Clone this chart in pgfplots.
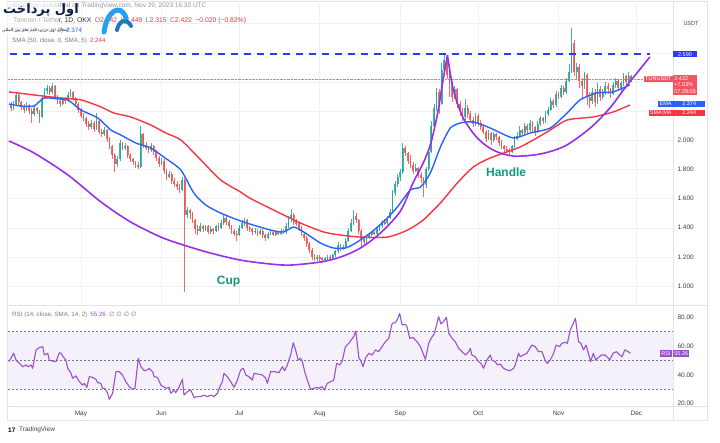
\documentclass[border=0pt]{standalone}
\usepackage{pgfplots}
\pgfplotsset{compat=1.18}
\usepgfplotslibrary{fillbetween}
\usepackage{pgfplotstable}
\usepackage{fontspec}
\setmainfont{Liberation Sans}
\newfontfamily\arabicfont[Script=Arabic]{DejaVu Sans}
\newfontfamily\dejavu{DejaVu Sans}
\TeXXeTstate=1
\definecolor{upc}{RGB}{38,166,154}
\definecolor{dnc}{RGB}{239,83,80}
\definecolor{emac}{RGB}{41,98,255}
\definecolor{smac}{RGB}{242,54,69}
\definecolor{cupc}{RGB}{151,48,235}
\definecolor{dashc}{RGB}{41,60,245}
\definecolor{rsic}{RGB}{156,80,204}
\definecolor{bandc}{RGB}{243,239,250}
\definecolor{obc}{RGB}{222,243,226}
\definecolor{gridc}{RGB}{238,240,245}
\definecolor{txtc}{RGB}{120,123,134}
\definecolor{cupteal}{RGB}{22,150,128}
\definecolor{navyc}{RGB}{14,28,72}
\definecolor{logoc}{RGB}{40,160,240}
\definecolor{framec}{RGB}{224,227,235}

\pgfplotstableread{
d o h l c
-26 2.22 2.27 2.21 2.25
-25 2.25 2.33 2.24 2.31
-21 2.21 2.26 2.20 2.24
-18 2.18 2.24 2.17 2.22
-15 2.16 2.31 2.15 2.29
-14 2.29 2.36 2.28 2.34
-13 2.34 2.38 2.32 2.36
-11 2.33 2.39 2.32 2.37
-7 2.25 2.30 2.24 2.29
-5 2.27 2.33 2.26 2.31
-4 2.31 2.35 2.30 2.33
4 2.09 2.14 2.08 2.12
6 2.08 2.19 2.07 2.13
9 2.04 2.09 2.03 2.07
14 1.84 1.89 1.82 1.87
15 1.87 2.00 1.86 1.98
17 1.95 1.98 1.93 1.96
23 1.82 2.10 1.81 2.04
27 1.93 1.98 1.92 1.96
31 1.84 1.88 1.83 1.86
34 1.75 1.79 1.74 1.77
39 1.66 1.75 1.65 1.73
41 1.49 1.54 1.47 1.52
46 1.38 1.43 1.37 1.41
48 1.39 1.42 1.38 1.41
50 1.37 1.41 1.36 1.39
52 1.38 1.42 1.37 1.41
54 1.40 1.45 1.39 1.43
55 1.43 1.49 1.42 1.47
61 1.35 1.42 1.34 1.40
62 1.40 1.45 1.39 1.43
63 1.43 1.47 1.41 1.45
67 1.37 1.40 1.36 1.38
69 1.36 1.39 1.35 1.38
72 1.33 1.37 1.32 1.36
73 1.36 1.38 1.35 1.37
75 1.35 1.38 1.34 1.37
77 1.36 1.39 1.35 1.38
79 1.37 1.43 1.36 1.41
80 1.41 1.48 1.40 1.46
81 1.46 1.53 1.44 1.49
91 1.19 1.21 1.17 1.20
94 1.18 1.20 1.17 1.19
95 1.19 1.21 1.18 1.20
97 1.19 1.22 1.18 1.21
98 1.21 1.25 1.20 1.24
99 1.24 1.30 1.23 1.28
101 1.26 1.28 1.25 1.27
102 1.27 1.33 1.26 1.31
103 1.31 1.40 1.30 1.38
104 1.38 1.46 1.37 1.43
105 1.43 1.52 1.42 1.48
110 1.30 1.35 1.29 1.33
111 1.33 1.36 1.32 1.35
112 1.35 1.38 1.34 1.37
114 1.36 1.40 1.35 1.39
115 1.39 1.42 1.38 1.41
116 1.41 1.45 1.40 1.44
118 1.43 1.48 1.42 1.47
119 1.47 1.53 1.46 1.51
120 1.51 1.66 1.50 1.64
121 1.64 1.72 1.62 1.70
122 1.70 1.77 1.68 1.75
123 1.75 1.80 1.72 1.78
124 1.78 1.98 1.77 1.95
129 1.79 1.84 1.78 1.81
133 1.69 1.82 1.67 1.80
134 1.80 1.94 1.79 1.92
135 1.92 2.13 1.91 2.10
136 2.10 2.25 2.08 2.22
137 2.22 2.36 2.20 2.33
139 2.25 2.53 2.24 2.48
140 2.48 2.59 2.45 2.55
144 2.30 2.37 2.28 2.35
148 2.16 2.28 2.14 2.22
152 2.11 2.19 2.10 2.17
157 2.01 2.07 2.00 2.05
159 2.00 2.06 1.99 2.04
166 1.92 1.97 1.91 1.96
167 1.96 2.03 1.95 2.01
168 2.01 2.06 2.00 2.03
169 2.03 2.10 2.02 2.07
171 2.05 2.12 2.04 2.10
173 2.07 2.14 2.06 2.12
176 2.06 2.13 2.05 2.11
177 2.11 2.17 2.10 2.15
179 2.13 2.20 2.12 2.18
180 2.18 2.23 2.17 2.21
181 2.21 2.29 2.20 2.27
183 2.24 2.34 2.23 2.32
185 2.30 2.38 2.29 2.36
187 2.33 2.43 2.32 2.41
188 2.41 2.52 2.40 2.47
189 2.47 2.77 2.46 2.67
191 2.47 2.53 2.42 2.50
194 2.37 2.47 2.35 2.45
197 2.27 2.36 2.25 2.33
199 2.26 2.39 2.25 2.35
201 2.30 2.35 2.28 2.33
202 2.33 2.40 2.31 2.37
205 2.32 2.40 2.31 2.38
206 2.38 2.43 2.36 2.41
208 2.36 2.41 2.34 2.39
209 2.39 2.46 2.37 2.44
211 2.40 2.47 2.38 2.44
}\upT

\pgfplotstableread{
d o h l c
-27 2.24 2.26 2.20 2.22
-24 2.31 2.32 2.24 2.26
-23 2.26 2.27 2.21 2.23
-22 2.23 2.25 2.19 2.21
-20 2.24 2.25 2.18 2.20
-19 2.20 2.22 2.12 2.18
-17 2.22 2.23 2.18 2.20
-16 2.20 2.21 2.12 2.16
-12 2.36 2.37 2.31 2.33
-10 2.37 2.38 2.28 2.30
-9 2.30 2.31 2.25 2.27
-8 2.27 2.29 2.23 2.25
-6 2.29 2.30 2.25 2.27
-3 2.33 2.34 2.27 2.29
-2 2.29 2.30 2.23 2.25
-1 2.25 2.26 2.19 2.21
0 2.21 2.22 2.15 2.17
1 2.17 2.19 2.13 2.15
2 2.15 2.16 2.09 2.11
3 2.11 2.13 2.07 2.09
5 2.12 2.13 2.06 2.08
7 2.13 2.14 2.04 2.06
8 2.06 2.08 2.02 2.04
10 2.07 2.08 1.99 2.01
11 2.01 2.02 1.94 1.96
12 1.96 1.97 1.87 1.90
13 1.90 1.91 1.78 1.84
16 1.98 1.99 1.93 1.95
18 1.96 1.97 1.88 1.90
19 1.90 1.91 1.85 1.87
20 1.87 1.88 1.83 1.85
21 1.85 1.86 1.81 1.83
22 1.83 1.85 1.80 1.82
24 2.04 2.05 1.95 1.97
25 1.97 1.99 1.93 1.95
26 1.95 1.96 1.91 1.93
28 1.96 1.97 1.90 1.92
29 1.92 1.93 1.86 1.88
30 1.88 1.89 1.82 1.84
32 1.86 1.87 1.77 1.79
33 1.79 1.80 1.73 1.75
35 1.77 1.78 1.70 1.72
36 1.72 1.74 1.68 1.70
37 1.70 1.72 1.66 1.68
38 1.68 1.70 1.64 1.66
40 1.73 1.74 0.96 1.49
42 1.52 1.53 1.46 1.50
43 1.50 1.51 1.43 1.45
44 1.45 1.46 1.36 1.39
45 1.39 1.42 1.35 1.38
47 1.41 1.42 1.37 1.39
49 1.41 1.42 1.36 1.37
51 1.39 1.40 1.36 1.38
53 1.41 1.43 1.38 1.40
56 1.47 1.48 1.42 1.44
57 1.44 1.45 1.39 1.41
58 1.41 1.42 1.36 1.38
59 1.38 1.39 1.34 1.36
60 1.36 1.38 1.31 1.35
64 1.45 1.46 1.38 1.40
65 1.40 1.41 1.37 1.39
66 1.39 1.40 1.35 1.37
68 1.38 1.39 1.34 1.36
70 1.38 1.39 1.33 1.35
71 1.35 1.36 1.31 1.33
74 1.37 1.38 1.34 1.35
76 1.37 1.38 1.35 1.36
78 1.38 1.39 1.36 1.37
82 1.49 1.50 1.42 1.44
83 1.44 1.46 1.41 1.43
84 1.43 1.44 1.38 1.40
85 1.40 1.41 1.34 1.36
86 1.36 1.37 1.31 1.33
87 1.33 1.34 1.27 1.29
88 1.29 1.30 1.23 1.25
89 1.25 1.26 1.18 1.20
90 1.20 1.22 1.17 1.19
92 1.20 1.21 1.17 1.19
93 1.19 1.20 1.16 1.18
96 1.20 1.21 1.18 1.19
100 1.28 1.29 1.24 1.26
106 1.48 1.50 1.43 1.45
107 1.45 1.46 1.36 1.38
108 1.38 1.39 1.27 1.32
109 1.32 1.34 1.28 1.30
113 1.37 1.38 1.35 1.36
117 1.44 1.46 1.42 1.43
125 1.95 1.96 1.89 1.91
126 1.91 1.92 1.84 1.86
127 1.86 1.90 1.81 1.83
128 1.83 1.85 1.77 1.79
130 1.81 1.82 1.74 1.76
131 1.76 1.78 1.71 1.74
132 1.74 1.75 1.61 1.69
138 2.33 2.35 2.18 2.25
141 2.55 2.58 2.42 2.45
142 2.45 2.47 2.30 2.39
143 2.39 2.41 2.26 2.30
145 2.35 2.36 2.22 2.25
146 2.25 2.27 2.17 2.20
147 2.20 2.22 2.13 2.16
149 2.22 2.24 2.15 2.18
150 2.18 2.20 2.12 2.14
151 2.14 2.16 2.09 2.11
153 2.17 2.18 2.10 2.12
154 2.12 2.14 2.07 2.09
155 2.09 2.11 2.04 2.06
156 2.06 2.07 1.99 2.01
158 2.05 2.06 1.97 2.00
160 2.04 2.05 2.00 2.02
161 2.02 2.03 1.96 1.98
162 1.98 2.00 1.94 1.96
163 1.96 1.97 1.92 1.94
164 1.94 1.96 1.91 1.93
165 1.93 1.95 1.90 1.92
170 2.07 2.08 2.03 2.05
172 2.10 2.11 2.05 2.07
174 2.12 2.13 2.05 2.09
175 2.09 2.10 2.03 2.06
178 2.15 2.16 2.11 2.13
182 2.27 2.28 2.22 2.24
184 2.32 2.33 2.28 2.30
186 2.36 2.37 2.31 2.33
190 2.67 2.69 2.44 2.47
192 2.50 2.52 2.36 2.41
193 2.41 2.43 2.28 2.37
195 2.45 2.46 2.24 2.30
196 2.30 2.33 2.22 2.27
198 2.33 2.35 2.23 2.26
200 2.35 2.37 2.27 2.30
203 2.37 2.39 2.32 2.35
204 2.35 2.36 2.29 2.32
207 2.41 2.42 2.34 2.36
210 2.44 2.45 2.37 2.40
212 2.44 2.45 2.40 2.42
}\dnT

\pgfplotstableread{
d r
-27.7 49.1
-25.9 54.9
-25.0 50.2
-23.7 47.9
-22.4 45.6
-21.2 46.8
-20.3 45.6
-19.2 46.8
-18.6 44.5
-17.3 57.2
-16.0 58.8
-14.7 59.5
-14.1 53.7
-12.8 54.9
-12.2 50.2
-10.9 49.5
-9.6 49.1
-8.3 55.3
-7.7 54.9
-6.4 51.4
-5.8 50.2
-5.1 44.5
-3.8 41.0
-3.2 37.6
-1.9 39.2
-0.6 35.2
0.6 32.9
1.3 34.1
2.3 31.3
3.2 38.7
4.5 38.2
5.8 36.9
6.4 34.6
7.7 34.1
8.3 30.6
9.2 30.6
10.3 27.2
10.9 23.0
12.2 27.2
13.5 42.2
14.7 42.2
16.0 39.9
17.3 35.2
18.6 31.8
19.9 29.9
20.8 30.6
22.1 51.4
23.1 45.6
24.4 42.9
25.6 43.3
26.3 44.5
27.6 42.2
28.2 38.7
29.5 38.2
30.8 32.9
32.1 31.3
32.9 30.6
34.0 31.3
34.6 27.2
35.9 29.5
36.5 27.6
37.4 29.9
39.1 36.9
39.7 26.0
41.0 28.3
42.3 29.5
43.6 24.2
44.9 24.9
46.2 24.9
47.4 26.0
48.7 24.9
50.0 26.0
51.3 24.9
52.6 27.2
53.8 32.9
54.5 35.2
55.1 41.0
56.4 38.7
57.7 35.2
59.0 31.3
60.3 36.4
61.5 43.3
62.6 44.5
63.5 39.9
64.7 38.7
66.0 36.4
66.7 41.0
67.9 40.6
69.9 39.9
71.2 37.6
71.8 34.1
73.1 42.2
74.4 42.2
76.3 41.5
77.6 45.6
78.5 42.9
79.5 46.8
80.8 53.7
81.8 62.2
82.7 57.2
83.7 50.2
84.6 51.4
85.3 49.1
86.2 42.2
87.2 36.4
88.5 29.9
89.7 30.6
91.0 31.3
91.7 30.6
92.9 31.8
93.8 29.5
94.9 34.1
96.2 35.2
97.4 36.4
98.5 47.9
99.7 46.8
100.6 49.1
101.9 59.5
103.2 61.8
105.1 66.4
105.9 70.3
107.1 51.4
107.7 50.2
108.7 45.6
109.6 51.4
110.9 54.9
112.2 53.7
113.5 57.2
114.7 56.0
116.0 59.5
117.3 62.9
118.6 65.2
119.9 75.6
121.2 76.1
122.1 79.1
122.8 82.5
123.7 74.5
125.0 74.9
125.6 73.3
126.7 65.2
127.9 65.9
129.5 62.9
130.8 59.5
132.7 50.7
134.0 61.8
134.9 65.2
136.2 68.7
137.8 80.2
138.7 75.2
139.7 76.8
140.8 79.8
141.7 68.7
143.0 65.2
144.2 62.9
145.5 58.3
146.8 56.0
148.1 53.7
149.4 56.0
150.0 58.3
150.6 53.7
151.9 52.5
153.2 49.1
154.1 47.9
155.1 44.5
156.4 50.2
157.7 53.7
158.3 50.2
159.6 49.1
160.5 46.8
161.5 47.5
162.8 44.5
164.1 43.3
165.4 42.9
166.7 44.5
167.3 46.8
168.6 54.9
169.2 52.5
170.5 53.7
171.8 54.9
173.7 60.6
175.0 59.5
176.3 56.0
177.6 56.0
178.8 50.2
179.7 47.9
180.8 50.2
182.1 54.9
183.1 60.6
184.4 59.5
185.3 61.8
186.5 62.5
187.4 61.8
188.5 71.0
189.7 75.6
190.5 79.1
191.7 62.9
192.6 61.8
193.6 57.2
194.6 60.6
195.5 54.9
196.4 49.1
197.4 54.9
198.3 50.2
199.4 52.1
200.6 53.7
201.9 53.7
203.2 51.4
203.7 50.2
205.0 54.9
206.3 56.0
207.6 53.7
208.5 52.5
209.5 57.2
210.8 56.0
211.7 54.9
}\rsiT

\pgfplotsset{
  candle/.style 2 args={forget plot, draw=none, mark=none, only marks, mark size=0pt,
    mark options={draw=none, fill=none},
    error bars/.cd, y dir=both, y explicit, error mark=none,
    error bar style={draw=#1, line width=#2, opacity=0.85}},
}

\begin{document}
\begin{tikzpicture}
\begin{scope}[x=1pt,y=1pt]
\useasboundingbox (0,0) rectangle (720,-442);
\fill[white] (0,0) rectangle (720,-442);
\end{scope}

% ---------------- main price pane
\begin{axis}[
  at={(8pt,-4pt)}, anchor=north west, scale only axis,
  width=665pt, height=301pt,
  xmin=-28.1, xmax=228.1, ymin=0.870, ymax=2.935,
  axis line style={draw=none}, tick style={draw=none},
  xtick={0,31,61,92,123,153,184,214}, xticklabels={},
  ytick={1,1.2,1.4,1.6,1.8,2.0},
  extra y ticks={2.2,2.4,2.6,2.8}, extra y tick labels={},
  grid=major, major grid style={gridc, line width=0.5pt},
  yticklabel pos=right,
  yticklabel style={anchor=west, xshift=1pt, font=\fontsize{6.5}{7}\selectfont, text=black!75,
     /pgf/number format/fixed, /pgf/number format/fixed zerofill, /pgf/number format/precision=3},
  /pgf/number format/assume math mode=true,
]
% current price line
\addplot[forget plot, smac!70, line width=0.4pt, densely dotted] coordinates {(-28.1,2.422) (228.1,2.422)};
% candles: wicks
\addplot[candle={upc}{0.6pt}]
  table[x=d, y expr={(\thisrow{h}+\thisrow{l})/2}, y error expr={(\thisrow{h}-\thisrow{l})/2}] {\upT};
\addplot[candle={dnc}{0.6pt}]
  table[x=d, y expr={(\thisrow{h}+\thisrow{l})/2}, y error expr={(\thisrow{h}-\thisrow{l})/2}] {\dnT};
% candles: bodies
\addplot[candle={upc}{1.8pt}]
  table[x=d, y expr={(\thisrow{o}+\thisrow{c})/2}, y error expr={abs(\thisrow{c}-\thisrow{o})/2}] {\upT};
\addplot[candle={dnc}{1.8pt}]
  table[x=d, y expr={(\thisrow{o}+\thisrow{c})/2}, y error expr={abs(\thisrow{c}-\thisrow{o})/2}] {\dnT};
% SMA 50
\addplot[smac, line width=1.4pt, smooth, tension=0.4] coordinates {
(-27.7,2.332) (-18.1,2.311) (-7.7,2.290) (0,2.277) (7.7,2.229) (12.7,2.187) (19.2,2.160)
(26.9,2.105) (32.7,2.050) (38.5,2.002) (46.2,1.865) (53.8,1.728) (61.5,1.645) (65.4,1.600)
(75.8,1.508) (84.6,1.432) (93.5,1.371) (100,1.350) (107.7,1.336) (118.1,1.336) (125.8,1.384)
(131.9,1.453) (138.5,1.570) (145.0,1.707) (151.2,1.817) (157.7,1.879) (169.2,1.954)
(179.6,2.057) (187.3,2.139) (197.3,2.160) (205.0,2.194) (211.5,2.242)};
% EMA 20
\addplot[emac, line width=1.4pt, smooth, tension=0.4] coordinates {
(-27.7,2.249) (-23.1,2.235) (-18.1,2.235) (-14.2,2.290) (-8.5,2.283) (-5.0,2.277) (0,2.208)
(6.5,2.153) (11.5,2.071) (15.4,2.036) (21.2,1.981) (26.9,1.947) (31.9,1.885) (38.5,1.796)
(43.5,1.638) (48.1,1.556) (53.8,1.501) (62.7,1.439) (73.1,1.384) (78.1,1.371) (81.9,1.405)
(85.8,1.371) (92.3,1.295) (97.3,1.261) (101.9,1.261) (105.8,1.295) (111.5,1.364) (117.3,1.453)
(121.9,1.542) (126.9,1.659) (130.8,1.679) (134.6,1.776) (138.5,1.954) (142.3,2.084)
(146.2,2.119) (151.2,2.126) (157.7,2.084) (166.5,2.016) (173.1,2.050) (180.8,2.084)
(187.3,2.187) (192.3,2.277) (198.8,2.325) (205.0,2.332) (211.5,2.380)};
% cup
\addplot[cupc, line width=1.6pt, smooth, tension=0.5] coordinates {
(-27.7,1.995) (-18.1,1.913) (-5.0,1.762) (7.7,1.577) (19.2,1.439) (30.8,1.336) (39.6,1.281)
(50.0,1.226) (61.5,1.178) (73.1,1.151) (80.8,1.144) (92.3,1.165) (100.0,1.199) (107.7,1.261)
(115.4,1.364) (123.1,1.515) (128.1,1.714) (131.5,1.830) (134.6,1.968) (137.3,2.174)
(139.2,2.380) (141.2,2.585)};
% handle
\addplot[cupc, line width=1.6pt, smooth, tension=0.5] coordinates {
(141.2,2.585) (143.5,2.345) (147.3,2.153) (152.7,2.016) (158.8,1.933) (166.5,1.892)
(176.9,1.906) (186.5,1.961) (196.2,2.084) (203.8,2.222) (209.6,2.359) (219.2,2.572)};
% resistance
\addplot[dashc, line width=1.6pt, dash pattern=on 7pt off 6pt] coordinates {(-27.3,2.59) (219.2,2.59)};
\node[text=cupteal, font=\fontsize{12}{14}\selectfont\bfseries] at (axis cs:56.9,1.034) {Cup};
\node[text=cupteal, font=\fontsize{12}{14}\selectfont\bfseries] at (axis cs:163.8,1.782) {Handle};
\end{axis}

% ---------------- RSI pane
\begin{axis}[
  at={(8pt,-306pt)}, anchor=north west, scale only axis,
  width=665pt, height=100pt,
  xmin=-28.1, xmax=228.1, ymin=18.4, ymax=87.6,
  axis line style={draw=none}, tick style={draw=none},
  xtick={0,31,61,92,123,153,184,214},
  xticklabels={May,Jun,Jul,Aug,Sep,Oct,Nov,Dec},
  xticklabel style={font=\fontsize{6.5}{7}\selectfont, text=black!75, yshift=-1pt},
  ytick={20,40,60,80},
  grid=major, major grid style={gridc, line width=0.5pt},
  yticklabel pos=right,
  yticklabel style={anchor=west, xshift=1pt, font=\fontsize{6.5}{7}\selectfont, text=black!75,
     /pgf/number format/fixed, /pgf/number format/fixed zerofill, /pgf/number format/precision=2},
  /pgf/number format/assume math mode=true,
]
\fill[bandc, opacity=0.85] (axis cs:-28.1,30) rectangle (axis cs:228.1,70);
\addplot[forget plot, name path=seventy, txtc, line width=0.5pt, dash pattern=on 2pt off 2pt] coordinates {(-28.1,70) (228.1,70)};
\addplot[forget plot, txtc, line width=0.5pt, dash pattern=on 2pt off 2pt] coordinates {(-28.1,50) (228.1,50)};
\addplot[forget plot, txtc, line width=0.5pt, dash pattern=on 2pt off 2pt] coordinates {(-28.1,30) (228.1,30)};
\addplot[forget plot, draw=none, name path=rsi] table[x=d, y=r] {\rsiT};
\addplot[forget plot, obc] fill between[of=rsi and seventy, soft clip={domain=119.4:126.0}];
\addplot[forget plot, obc] fill between[of=rsi and seventy, soft clip={domain=136.3:141.6}];
\addplot[forget plot, obc] fill between[of=rsi and seventy, soft clip={domain=188.4:190.9}];
\addplot[rsic, line width=1.1pt, line join=round] table[x=d, y=r] {\rsiT};
\end{axis}

\begin{scope}[x=1pt,y=1pt]
% frame and separators
\draw[framec, line width=0.6pt] (7,-1) rectangle (707,-420);
\draw[framec, line width=0.6pt] (7,-305.5) -- (707,-305.5);
\draw[framec, line width=0.6pt] (7,-406) -- (707,-406);
\draw[framec, line width=0.6pt] (673,-1) -- (673,-420);

% header texts
\node[anchor=west, inner sep=0, text=txtc!80, font=\fontsize{6.5}{7}\selectfont] at (10,-6) {ranadaspp published on TradingView.com, Nov 29, 2023 16:30 UTC};
\node[anchor=west, inner sep=0, font=\fontsize{6.8}{7}\selectfont] at (13,-21)
 {\textcolor{black!80}{Toncoin / Tether, 1D, OKX}\enspace \textcolor{txtc}{O}\textcolor{smac}{2.442}\enspace \textcolor{txtc}{H}\textcolor{smac}{2.449}\enspace \textcolor{txtc}{L}\textcolor{smac}{2.315}\enspace \textcolor{txtc}{C}\textcolor{smac}{2.422}\enspace \textcolor{smac}{−0.020 (−0.82\%)}};
\node[anchor=west, inner sep=0, font=\fontsize{6.2}{7}\selectfont] at (12,-31)
 {\textcolor{txtc}{EMA (20, close, 0)}\enspace\textcolor{emac}{2.374}};
\node[anchor=west, inner sep=0, font=\fontsize{6.2}{7}\selectfont] at (12,-41)
 {\textcolor{txtc}{SMA (50, close, 0, SMA, 5)}\enspace\textcolor{smac}{2.244}};
\node[anchor=west, inner sep=0, font=\fontsize{6.2}{7}\selectfont] at (12,-315)
 {\textcolor{txtc}{RSI (14, close, SMA, 14, 2)}\enspace\textcolor{rsic}{55.26}\enspace\textcolor{txtc}{\dejavu ∅ ∅ ∅ ∅}};

% watermark
\fill[white, opacity=0.6] (2,-2) rectangle (58,-35);
\node[anchor=north west, inner sep=0, text=navyc] at (3,-3) {\arabicfont\bfseries\fontsize{13}{13}\selectfont\beginR اول پرداخت\endR};
\node[anchor=north west, inner sep=0, text=navyc] at (2,-28) {\arabicfont\fontsize{4.2}{5}\selectfont\beginR انتخاب اول در پرداخت های بین المللی\endR};
\draw[logoc, line width=5pt, line cap=round] (104,-32) .. controls (107,-10) and (121,-3) .. (126,-18);
\draw[logoc!70!navyc, line width=4pt, line cap=round] (117,-30) .. controls (119,-20) and (127,-18) .. (131,-26);

% right-scale labels
\node[draw=framec, fill=white, rounded corners=1pt, inner sep=1.5pt, text=black!75, font=\fontsize{5.5}{6}\selectfont] at (691,-23.5) {USDT};
\node[fill=dashc, text=white, inner sep=1.2pt, font=\fontsize{5.5}{6}\selectfont, minimum width=24pt] at (685,-54.3) {2.590};
\node[fill=smac!85, text=white, inner sep=1.2pt, font=\fontsize{5.5}{6}\selectfont, anchor=east] at (673,-79) {TONUSDT};
\node[fill=smac!85, text=white, inner sep=1.2pt, font=\fontsize{5.5}{6.6}\selectfont, anchor=north west, align=left] at (673,-75) {2.422\\+7.03\%\\07:29:05};
\node[fill=emac, text=white, inner sep=1.2pt, font=\fontsize{5.5}{6}\selectfont, anchor=east] at (673,-104) {EMA};
\node[fill=emac, text=white, inner sep=1.2pt, font=\fontsize{5.5}{6}\selectfont, anchor=west, minimum width=32pt, align=left] at (673,-104) {2.374};
\node[fill=smac, text=white, inner sep=1.2pt, font=\fontsize{5.5}{6}\selectfont, anchor=east] at (673,-113) {SMA:MA};
\node[fill=smac, text=white, inner sep=1.2pt, font=\fontsize{5.5}{6}\selectfont, anchor=west, minimum width=32pt, align=left] at (673,-113) {2.244};
\node[fill=rsic, text=white, inner sep=1.2pt, font=\fontsize{5.5}{6}\selectfont, anchor=east] at (672,-353.5) {RSI};
\node[fill=rsic, text=white, inner sep=1.2pt, font=\fontsize{5.5}{6}\selectfont, anchor=west] at (673,-353.5) {55.26};

% TradingView logo text
\node[anchor=west, inner sep=0, font=\fontsize{6.5}{7}\selectfont\bfseries, text=black] at (8,-430) {17};
\node[anchor=west, inner sep=0, font=\fontsize{6.5}{7}\selectfont, text=black!75] at (19,-430) {TradingView};
\end{scope}
\end{tikzpicture}
\end{document}
